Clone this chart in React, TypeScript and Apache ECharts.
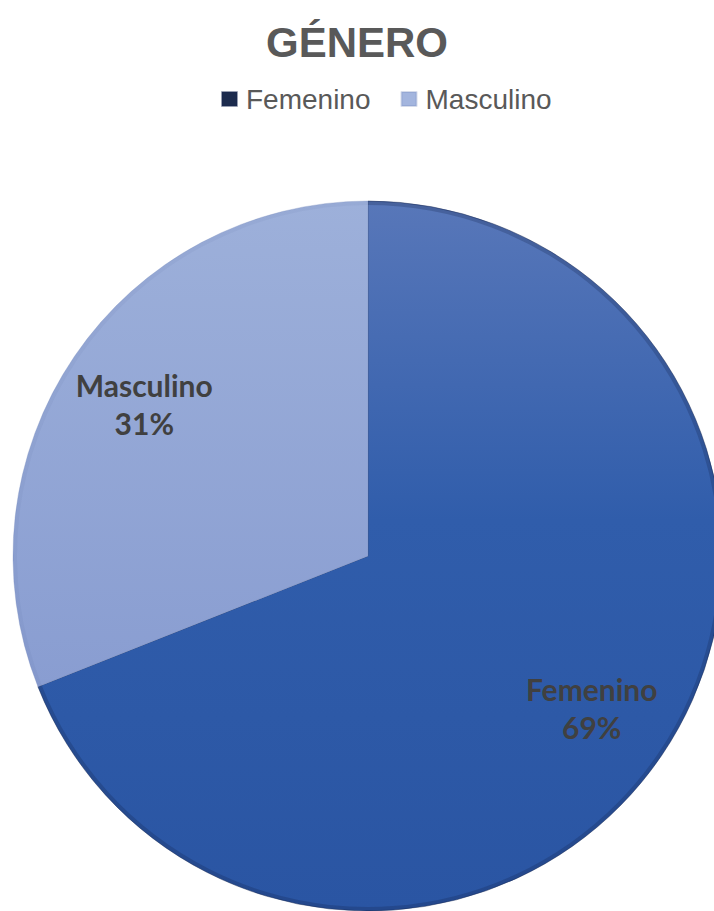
import React, { useEffect, useRef } from "react";
import * as echarts from "echarts";

const categories = ["Femenino", "Masculino"];
const values = [69, 31];
const titleText = "GÉNERO";

export default function App() {
  const ref = useRef<HTMLDivElement>(null);
  useEffect(() => {
    if (!ref.current) return;
    const chart = echarts.init(ref.current, undefined, { renderer: "svg" });
    const femFill = new echarts.graphic.LinearGradient(0, 0, 0, 1, [
      { offset: 0, color: "#5877B9" },
      { offset: 0.45, color: "#305DAB" },
      { offset: 1, color: "#2A55A3" },
    ]);
    const mascFill = new echarts.graphic.LinearGradient(0, 0, 0, 1, [
      { offset: 0, color: "#9DB0DA" },
      { offset: 1, color: "#899DD1" },
    ]);
    const fills = [femFill, mascFill];
    const center = [368, 556];
    const R = 355;
    chart.setOption({
      animation: false,
      title: {
        text: titleText,
        left: "center",
        top: 16,
        textStyle: {
          fontFamily: "Liberation Sans, Arial, sans-serif",
          fontSize: 42,
          fontWeight: "bold",
          color: "#595959",
        },
      },
      legend: {
        left: 216,
        top: 80,
        itemWidth: 15,
        itemHeight: 14,
        itemGap: 30,
        icon: "rect",
        data: [
          { name: categories[0], itemStyle: { color: "#1C2B4D" } },
          { name: categories[1], itemStyle: { color: "#A3B5DE" } },
        ],
        textStyle: {
          fontFamily: "Liberation Sans, Arial, sans-serif",
          fontSize: 28,
          lineHeight: 28,
          color: "#595959",
          padding: [0, 0, 0, 4],
        },
      },
      series: [
        {
          type: "pie",
          center,
          radius: R,
          startAngle: 90,
          clockwise: true,
          silent: true,
          label: { show: false },
          labelLine: { show: false },
          data: categories.map((name, i) => ({
            name,
            value: values[i],
            itemStyle: {
              color: fills[i],
              borderColor: i === 0 ? "rgba(25,40,80,0.45)" : "rgba(120,140,190,0.3)",
              borderWidth: 1,
            },
          })),
        },
        {
          type: "pie",
          center,
          radius: [R - 4, R],
          startAngle: 90,
          silent: true,
          legendHoverLink: false,
          label: { show: false },
          labelLine: { show: false },
          data: categories.map((name, i) => ({
            name,
            value: values[i],
            itemStyle: { color: i === 0 ? "rgba(20,35,75,0.25)" : "rgba(60,80,140,0.06)" },
          })),
        },
        {
          type: "pie",
          center,
          radius: [180, R],
          startAngle: 90,
          silent: true,
          legendHoverLink: false,
          itemStyle: { color: "rgba(0,0,0,0)" },
          label: {
            show: true,
            position: "inside",
            formatter: "{b}\n{d}%",
            fontFamily: "Lato, sans-serif",
            fontWeight: "bold",
            fontSize: 30,
            lineHeight: 38,
            color: "#404040",
          },
          labelLine: { show: false },
          data: categories.map((name, i) => ({ name, value: values[i] })),
        },
      ],
    });
    return () => chart.dispose();
  }, []);
  return (
    <div
      ref={ref}
      style={{ position: "absolute", left: 0, top: 0, width: 714, height: 911 }}
    />
  );
}
